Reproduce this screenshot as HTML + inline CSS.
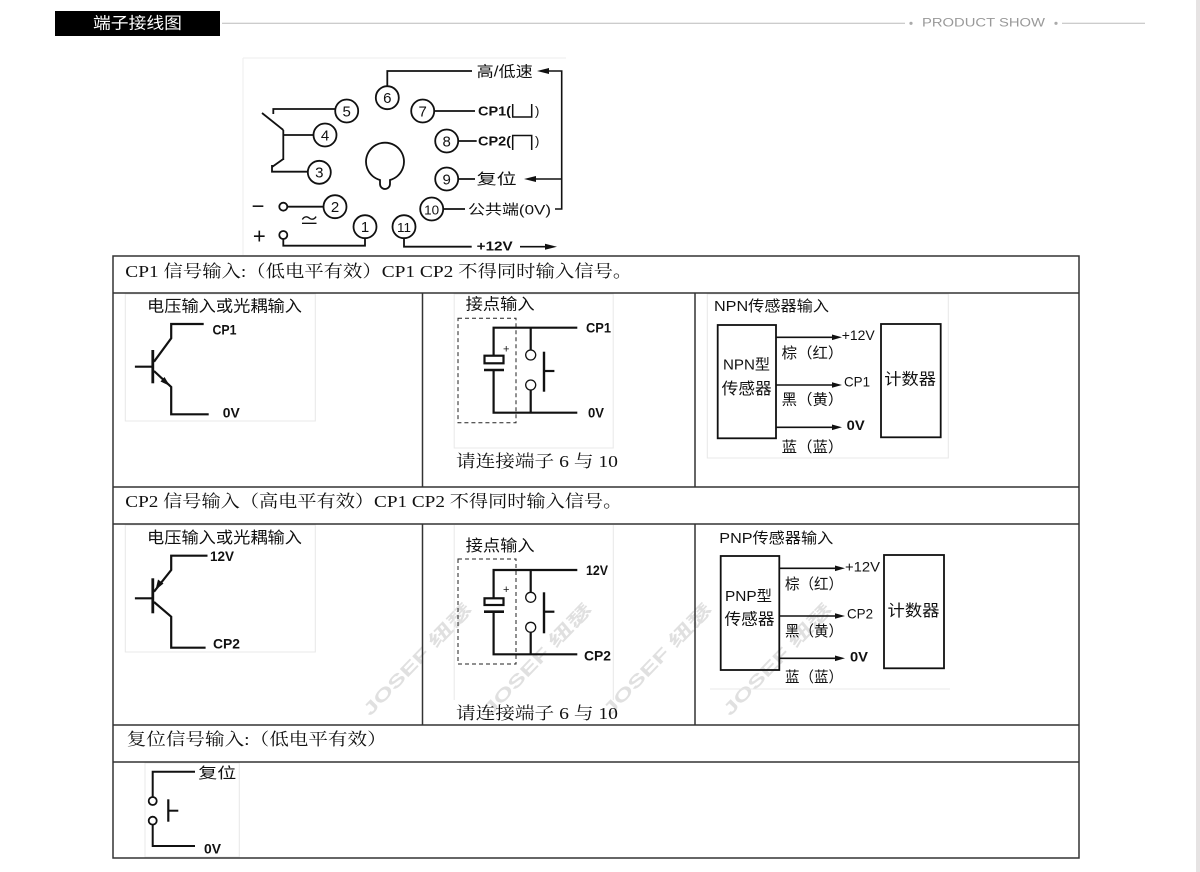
<!DOCTYPE html>
<html><head><meta charset="utf-8">
<style>
html,body{margin:0;padding:0;background:#fff;}
svg{display:block;}
.s{font-family:"Liberation Sans","Noto Sans CJK SC",sans-serif;}
.r{font-family:"Liberation Serif","Noto Serif CJK SC",serif;}
.b{font-weight:bold;}
</style></head>
<body>
<svg width="1200" height="872" viewBox="0 0 1200 872" xmlns="http://www.w3.org/2000/svg">
<rect width="1200" height="872" fill="#fff"/>
<rect x="1196" y="0" width="4" height="872" fill="#e6e3e3"/>

<!-- header -->
<rect x="55" y="11" width="165" height="25" fill="#000"/>
<text x="93" y="24" class="s" font-size="16" fill="#fff" dominant-baseline="central" textLength="89" lengthAdjust="spacingAndGlyphs">端子接线图</text>
<line x1="222" y1="23.3" x2="905" y2="23.3" stroke="#bbb" stroke-width="1"/>
<circle cx="911" cy="23.3" r="1.6" fill="#aaa"/>
<text x="922" y="23.5" class="s" font-size="11.5" fill="#999" dominant-baseline="central" textLength="123" lengthAdjust="spacingAndGlyphs">PRODUCT SHOW</text>
<circle cx="1056" cy="23.3" r="1.6" fill="#aaa"/>
<line x1="1062" y1="23.3" x2="1145" y2="23.3" stroke="#bbb" stroke-width="1"/>

<!-- top terminal diagram -->
<g stroke="#eee" stroke-width="1" fill="none">
<line x1="243" y1="58" x2="566" y2="58"/>
<line x1="243" y1="58" x2="243" y2="255"/>
</g>
<g stroke="#111" stroke-width="1.8" fill="none">
<circle cx="387.3" cy="97.7" r="11.5"/>
<circle cx="346.7" cy="111" r="11.5"/>
<circle cx="325" cy="135" r="11.5"/>
<circle cx="319.3" cy="172.3" r="11.5"/>
<circle cx="335" cy="206.7" r="11.5"/>
<circle cx="365" cy="226.7" r="11.5"/>
<circle cx="404" cy="226.7" r="11.5"/>
<circle cx="431.7" cy="209" r="11.5"/>
<circle cx="446.7" cy="179" r="11.5"/>
<circle cx="446.7" cy="141" r="11.5"/>
<circle cx="422.7" cy="111" r="11.5"/>
<path d="M380 180 A19 19 0 1 1 390 180 L390 184 A5 5 0 0 1 380 184 Z"/>
<polyline points="387.3,86.2 387.3,71 472,71"/>
<polyline points="434.2,111 475,111"/>
<polyline points="458.2,141 476.7,141"/>
<polyline points="458.2,179 475,179"/>
<polyline points="443.2,209 465,209"/>
<polyline points="404,238.2 404,246.7 471.7,246.7"/>
<polyline points="365,238.2 365,245.7 283.3,245.7 283.3,239"/>
<circle cx="283.3" cy="235" r="4"/>
<circle cx="283.3" cy="206.7" r="4"/>
<line x1="287.3" y1="206.7" x2="323.5" y2="206.7"/>
<polyline points="335.3,109 273.3,109 273.3,114"/>
<line x1="262" y1="113" x2="283.3" y2="130"/>
<line x1="283.3" y1="130" x2="283.3" y2="160"/>
<line x1="283.3" y1="135" x2="313.5" y2="135"/>
<line x1="283.3" y1="159" x2="272" y2="167"/>
<polyline points="272,165 272,171.7 307.8,171.7"/>
<polyline points="555,209 561.7,209 561.7,71 548,71" stroke-width="1.6"/>
<line x1="561.7" y1="179" x2="532" y2="179" stroke-width="1.6"/>
<line x1="520" y1="246.7" x2="548" y2="246.7" stroke-width="1.6"/>
<path d="M512.7 104 V117 H531.7 V104" stroke-width="1.5"/>
<path d="M512.7 150 V135.5 H531.7 V150" stroke-width="1.5"/>
</g>
<path d="M537 71 L549 68 L549 74 Z" fill="#111"/>
<path d="M524 179 L536 176 L536 182 Z" fill="#111"/>
<path d="M557 246.7 L545 243.7 L545 249.7 Z" fill="#111"/>
<g class="s" font-size="15" fill="#111" text-anchor="middle" dominant-baseline="central">
<text x="387.3" y="98.5">6</text>
<text x="346.7" y="111.8">5</text>
<text x="325" y="135.8">4</text>
<text x="319.3" y="173">3</text>
<text x="335" y="207.5">2</text>
<text x="365" y="227.5">1</text>
<text x="404" y="227.5" font-size="13" textLength="14" lengthAdjust="spacingAndGlyphs">11</text>
<text x="431.7" y="209.8" font-size="13" textLength="15" lengthAdjust="spacingAndGlyphs">10</text>
<text x="446.7" y="179.8">9</text>
<text x="446.7" y="141.8">8</text>
<text x="422.7" y="111.8">7</text>
</g>
<g class="s" fill="#111" dominant-baseline="central">
<text x="476.7" y="72" font-size="15" textLength="56" lengthAdjust="spacingAndGlyphs">高/低速</text>
<text x="478" y="111" font-size="13" class="s b" textLength="33" lengthAdjust="spacingAndGlyphs">CP1(</text>
<text x="535" y="111" font-size="13">)</text>
<text x="478" y="141" font-size="13" class="s b" textLength="33" lengthAdjust="spacingAndGlyphs">CP2(</text>
<text x="535" y="141" font-size="13">)</text>
<text x="476.7" y="179.5" font-size="15" textLength="40" lengthAdjust="spacingAndGlyphs">复位</text>
<text x="468" y="209.5" font-size="14" textLength="83" lengthAdjust="spacingAndGlyphs">公共端(0V)</text>
<text x="476.7" y="246" font-size="13" class="s b" textLength="36" lengthAdjust="spacingAndGlyphs">+12V</text>
<text x="258" y="206" font-size="22" text-anchor="middle">−</text>
<text x="259.3" y="236" font-size="22" text-anchor="middle">+</text>
<text x="309.3" y="222" font-size="20" text-anchor="middle">≃</text>
</g>

<!-- watermarks -->
<g class="s" font-size="17" font-weight="bold" fill="#e0e0e0">
<text transform="translate(370,716.7) rotate(-46)" textLength="148" lengthAdjust="spacingAndGlyphs">JOSEF 纽瑟</text>
<text transform="translate(490,716.7) rotate(-46)" textLength="148" lengthAdjust="spacingAndGlyphs">JOSEF 纽瑟</text>
<text transform="translate(610,716.7) rotate(-46)" textLength="148" lengthAdjust="spacingAndGlyphs">JOSEF 纽瑟</text>
<text transform="translate(730,716.7) rotate(-46)" textLength="148" lengthAdjust="spacingAndGlyphs">JOSEF 纽瑟</text>
</g>

<!-- light image borders -->
<g stroke="#e8e8e8" stroke-width="1" fill="none">
<rect x="125.3" y="294" width="190" height="127"/>
<rect x="454.2" y="294" width="159" height="154"/>
<rect x="707.3" y="294" width="241" height="164"/>
<rect x="125.3" y="525" width="190" height="127"/>
<polyline points="454.2,525 454.2,700"/>
<polyline points="613.3,525 613.3,700"/>
<line x1="710" y1="689" x2="950" y2="689"/>
<rect x="145" y="763" width="94.3" height="94"/>
</g>

<!-- table -->
<g stroke="#333" stroke-width="1.5" fill="none">
<rect x="113" y="256" width="966" height="602"/>
<line x1="113" y1="293" x2="1079" y2="293"/>
<line x1="113" y1="487" x2="1079" y2="487"/>
<line x1="113" y1="524" x2="1079" y2="524"/>
<line x1="113" y1="725" x2="1079" y2="725"/>
<line x1="113" y1="762" x2="1079" y2="762"/>
<line x1="422.5" y1="293" x2="422.5" y2="487"/>
<line x1="695" y1="293" x2="695" y2="487"/>
<line x1="422.5" y1="524" x2="422.5" y2="725"/>
<line x1="695" y1="524" x2="695" y2="725"/>
</g>

<g class="r" font-size="17" fill="#111" dominant-baseline="central">
<text x="125.3" y="271.5" textLength="507" lengthAdjust="spacingAndGlyphs">CP1 信号输入:（低电平有效）CP1 CP2 不得同时输入信号。</text>
<text x="125.3" y="501.5" textLength="497" lengthAdjust="spacingAndGlyphs">CP2 信号输入（高电平有效）CP1 CP2 不得同时输入信号。</text>
<text x="126.7" y="739.5" textLength="260" lengthAdjust="spacingAndGlyphs">复位信号输入:（低电平有效）</text>
<text x="456" y="461.7" textLength="162" lengthAdjust="spacingAndGlyphs">请连接端子 6 与 10</text>
<text x="456" y="713.3" textLength="162" lengthAdjust="spacingAndGlyphs">请连接端子 6 与 10</text>
</g>

<!-- Row 1 cell 1: NPN transistor -->
<g stroke="#111" stroke-width="2.2" fill="none">
<polyline points="203.7,324 171.2,324 171.2,338.3 154,361.7"/>
<line x1="152.8" y1="350" x2="152.8" y2="383.3" stroke-width="2.8"/>
<line x1="134.9" y1="366.7" x2="152.8" y2="366.7"/>
<polyline points="154,371 171.2,387 171.2,414.3 208.7,414.3"/>
</g>
<path d="M170 386 L160.5 381.5 L164.5 377 Z" fill="#111"/>
<g class="s" fill="#111" dominant-baseline="central">
<text x="147" y="307" font-size="16" textLength="155" lengthAdjust="spacingAndGlyphs">电压输入或光耦输入</text>
<text x="212.5" y="329.7" font-size="14" class="s b" textLength="24" lengthAdjust="spacingAndGlyphs">CP1</text>
<text x="222.8" y="412.3" font-size="14" class="s b" textLength="17" lengthAdjust="spacingAndGlyphs">0V</text>
</g>

<!-- Row 1 cell 2: contact -->
<rect x="458" y="318.3" width="58" height="104.4" fill="none" stroke="#222" stroke-width="1" stroke-dasharray="4,3"/>
<g stroke="#111" stroke-width="2.2" fill="none">
<polyline points="577.3,327.7 493.6,327.7 493.6,355.7"/>
<rect x="484.5" y="355.7" width="19" height="7.6"/>
<line x1="484" y1="370" x2="504" y2="370" stroke-width="2.6"/>
<polyline points="493.6,370 493.6,412.7 577.3,412.7"/>
<line x1="530.7" y1="327.7" x2="530.7" y2="350"/>
<line x1="530.7" y1="390" x2="530.7" y2="412.7"/>
<line x1="544" y1="351.7" x2="544" y2="391.7" stroke-width="2.4"/>
<line x1="544" y1="371" x2="554.4" y2="371"/>
</g>
<g stroke="#111" stroke-width="1.3" fill="#fff">
<circle cx="530.7" cy="355" r="5"/>
<circle cx="530.7" cy="385" r="5"/>
</g>
<g class="s" fill="#111" dominant-baseline="central">
<text x="465.6" y="305" font-size="16" textLength="69" lengthAdjust="spacingAndGlyphs">接点输入</text>
<text x="586" y="327.7" font-size="14" class="s b" textLength="25" lengthAdjust="spacingAndGlyphs">CP1</text>
<text x="588" y="412.7" font-size="14" class="s b" textLength="16" lengthAdjust="spacingAndGlyphs">0V</text>
<text x="503" y="349.3" font-size="11">+</text>
</g>

<!-- Row 1 cell 3: NPN sensor -->
<g stroke="#111" stroke-width="1.8" fill="none">
<rect x="717.7" y="325" width="58.3" height="113.3"/>
<rect x="881" y="324" width="59.7" height="113.3"/>
</g>
<g stroke="#111" stroke-width="1.6">
<line x1="776" y1="337.3" x2="835" y2="337.3"/>
<line x1="776" y1="385" x2="835" y2="385"/>
<line x1="776" y1="427.3" x2="835" y2="427.3"/>
</g>
<g fill="#111">
<path d="M842 337.3 L832 334.5 L832 340.1 Z"/>
<path d="M842 385 L832 382.2 L832 387.8 Z"/>
<path d="M842 427.3 L832 424.5 L832 430.1 Z"/>
</g>
<g class="s" fill="#111" dominant-baseline="central">
<text x="714" y="306.7" font-size="15" textLength="115" lengthAdjust="spacingAndGlyphs">NPN传感器输入</text>
<text x="723" y="365" font-size="15" textLength="47" lengthAdjust="spacingAndGlyphs">NPN型</text>
<text x="721.7" y="389.3" font-size="16" textLength="50" lengthAdjust="spacingAndGlyphs">传感器</text>
<text x="884.3" y="380" font-size="16" textLength="51.7" lengthAdjust="spacingAndGlyphs">计数器</text>
<text x="841.7" y="335" font-size="14" textLength="33" lengthAdjust="spacingAndGlyphs">+12V</text>
<text x="844" y="381.7" font-size="14" textLength="26" lengthAdjust="spacingAndGlyphs">CP1</text>
<text x="846.7" y="425" font-size="14" class="s b" textLength="18" lengthAdjust="spacingAndGlyphs">0V</text>
<text x="781.7" y="353.3" font-size="15" textLength="61.6" lengthAdjust="spacingAndGlyphs">棕（红）</text>
<text x="781.7" y="400" font-size="15" textLength="61.6" lengthAdjust="spacingAndGlyphs">黑（黄）</text>
<text x="781.7" y="447.7" font-size="15" textLength="61.6" lengthAdjust="spacingAndGlyphs">蓝（蓝）</text>
</g>

<!-- Row 2 cell 1: PNP transistor -->
<g stroke="#111" stroke-width="2.2" fill="none">
<polyline points="207.5,555.7 171.2,555.7 171.2,570 154,591.7"/>
<line x1="152.8" y1="578.3" x2="152.8" y2="613.3" stroke-width="2.8"/>
<line x1="134.9" y1="598.3" x2="152.8" y2="598.3"/>
<polyline points="154,602 171.2,616.7 171.2,647.7 205.6,647.7"/>
</g>
<path d="M155.5 590 L158 579.5 L163.5 583.5 Z" fill="#111"/>
<g class="s" fill="#111" dominant-baseline="central">
<text x="147" y="538.3" font-size="16" textLength="155" lengthAdjust="spacingAndGlyphs">电压输入或光耦输入</text>
<text x="210" y="556" font-size="14" class="s b" textLength="24" lengthAdjust="spacingAndGlyphs">12V</text>
<text x="213" y="643.3" font-size="14" class="s b" textLength="27" lengthAdjust="spacingAndGlyphs">CP2</text>
</g>

<!-- Row 2 cell 2: contact -->
<rect x="458" y="559" width="58" height="105" fill="none" stroke="#222" stroke-width="1" stroke-dasharray="4,3"/>
<g stroke="#111" stroke-width="2.2" fill="none">
<polyline points="577.3,570 493.6,570 493.6,598.3"/>
<rect x="484.5" y="598.3" width="19" height="6.7"/>
<line x1="484" y1="611.7" x2="504" y2="611.7" stroke-width="2.6"/>
<polyline points="493.6,611.7 493.6,654.3 577.3,654.3"/>
<line x1="530.7" y1="570" x2="530.7" y2="592.3"/>
<line x1="530.7" y1="632.3" x2="530.7" y2="654.3"/>
<line x1="544" y1="592.3" x2="544" y2="633.3" stroke-width="2.4"/>
<line x1="544" y1="611.7" x2="554.4" y2="611.7"/>
</g>
<g stroke="#111" stroke-width="1.3" fill="#fff">
<circle cx="530.7" cy="597.3" r="5"/>
<circle cx="530.7" cy="627.3" r="5"/>
</g>
<g class="s" fill="#111" dominant-baseline="central">
<text x="465.6" y="546.7" font-size="16" textLength="69" lengthAdjust="spacingAndGlyphs">接点输入</text>
<text x="586" y="570" font-size="14" class="s b" textLength="22" lengthAdjust="spacingAndGlyphs">12V</text>
<text x="584" y="655.7" font-size="14" class="s b" textLength="27" lengthAdjust="spacingAndGlyphs">CP2</text>
<text x="503" y="590" font-size="11">+</text>
</g>

<!-- Row 2 cell 3: PNP sensor -->
<g stroke="#111" stroke-width="1.8" fill="none">
<rect x="720.7" y="556" width="58.6" height="114"/>
<rect x="884" y="555" width="60" height="113.3"/>
</g>
<g stroke="#111" stroke-width="1.6">
<line x1="779.3" y1="568.3" x2="838" y2="568.3"/>
<line x1="779.3" y1="616" x2="838" y2="616"/>
<line x1="779.3" y1="658.3" x2="838" y2="658.3"/>
</g>
<g fill="#111">
<path d="M845 568.3 L835 565.5 L835 571.1 Z"/>
<path d="M845 616 L835 613.2 L835 618.8 Z"/>
<path d="M845 658.3 L835 655.5 L835 661.1 Z"/>
</g>
<g class="s" fill="#111" dominant-baseline="central">
<text x="719.3" y="538.3" font-size="15" textLength="114" lengthAdjust="spacingAndGlyphs">PNP传感器输入</text>
<text x="725" y="596.7" font-size="15" textLength="47" lengthAdjust="spacingAndGlyphs">PNP型</text>
<text x="724.5" y="620" font-size="16" textLength="50" lengthAdjust="spacingAndGlyphs">传感器</text>
<text x="887.5" y="611.7" font-size="16" textLength="52" lengthAdjust="spacingAndGlyphs">计数器</text>
<text x="845" y="566.7" font-size="14" textLength="35" lengthAdjust="spacingAndGlyphs">+12V</text>
<text x="847" y="613.3" font-size="14" textLength="26" lengthAdjust="spacingAndGlyphs">CP2</text>
<text x="850" y="656.7" font-size="14" class="s b" textLength="18" lengthAdjust="spacingAndGlyphs">0V</text>
<text x="785" y="584.3" font-size="15" textLength="58" lengthAdjust="spacingAndGlyphs">棕（红）</text>
<text x="785" y="631.7" font-size="15" textLength="58" lengthAdjust="spacingAndGlyphs">黑（黄）</text>
<text x="785" y="677.7" font-size="15" textLength="58" lengthAdjust="spacingAndGlyphs">蓝（蓝）</text>
</g>

<!-- Row 3: reset -->
<g stroke="#111" stroke-width="2" fill="none">
<polyline points="195,771.7 152.7,771.7 152.7,797"/>
<polyline points="152.7,824.7 152.7,846 195,846"/>
<line x1="168.3" y1="799.3" x2="168.3" y2="821.7" stroke-width="2.2"/>
<line x1="168.3" y1="810.7" x2="178.3" y2="810.7"/>
</g>
<g stroke="#111" stroke-width="1.8" fill="#fff">
<circle cx="152.7" cy="801" r="4"/>
<circle cx="152.7" cy="820.7" r="4"/>
</g>
<g class="s" fill="#111" dominant-baseline="central">
<text x="198.3" y="773.3" font-size="15" textLength="38" lengthAdjust="spacingAndGlyphs">复位</text>
<text x="204" y="848.3" font-size="14" class="s b" textLength="17" lengthAdjust="spacingAndGlyphs">0V</text>
</g>
</svg>
</body></html>
